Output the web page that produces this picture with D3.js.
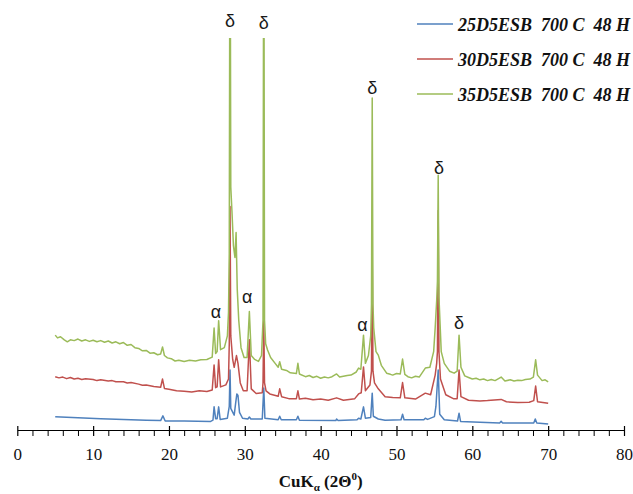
<!DOCTYPE html>
<html>
<head>
<meta charset="utf-8">
<script src="https://cdn.jsdelivr.net/npm/d3@7"></script>
<style>
  body { margin: 0; background: #fff; }
  svg { display: block; }
  .tick text { font-family: 'Liberation Serif', 'Times New Roman', serif; }
</style>
</head>
<body>
<div class="draw-section"></div>
<script>
// XRD patterns, [2theta, intensity (a.u., curves already offset)]
const blue25 = [
  [5, 3.4], [8, 3.1], [11, 2.9], [14, 2.7], [17, 2.5], [18.9, 2.4], [19.2, 3.6], [19.5, 2.3],
  [22, 2.3], [25.5, 2.2], [25.8, 2.5], [25.95, 5.9], [26.15, 2.9], [26.35, 2.9], [26.55, 5.9],
  [26.75, 2.7], [27.7, 3.0], [27.95, 6], [28.05, 15.3], [28.15, 5.5], [28.6, 3.8], [28.8, 7],
  [28.95, 9.2], [29.1, 8.8], [29.3, 4.5], [29.7, 3.0], [30.4, 2.8], [30.6, 3.3], [30.8, 2.8],
  [32.3, 2.8], [32.5, 10.7], [32.65, 3.0], [34.4, 2.6], [34.6, 3.5], [34.8, 2.6], [36.8, 2.6],
  [37.0, 3.5], [37.2, 2.5], [42.0, 2.4], [42.1, 2.8], [42.3, 2.4], [44.8, 2.6], [45.0, 3.0],
  [45.3, 2.8], [45.65, 5.9], [45.9, 3.0], [46.6, 3.2], [46.8, 9.4], [46.95, 3.5], [47.6, 2.8],
  [48.5, 2.5], [50.6, 2.6], [50.8, 4.0], [51.0, 2.6], [53.6, 2.6], [53.8, 3.0], [54.1, 2.7],
  [55.0, 3.4], [55.2, 6], [55.5, 15.3], [55.7, 4], [56.3, 2.6], [58.05, 2.3], [58.25, 4.3],
  [58.45, 2.2], [61, 2.0], [63.6, 1.8], [63.8, 2.2], [64.0, 1.8], [68.1, 1.8], [68.3, 2.8],
  [68.5, 1.8], [70, 1.5]
];

const red30 = [
  [5, 13.6], [5.5, 13.3], [6, 13.5], [6.5, 13.1], [7, 13.4], [7.5, 13.0], [8, 13.2], [8.5, 12.9],
  [9, 13.1], [10, 12.9], [10.5, 12.6], [11, 12.8], [12, 12.5], [12.5, 12.6], [13, 12.3],
  [14, 12.3], [14.5, 12.0], [15, 12.1], [16, 11.7], [16.5, 11.4], [17, 11.5], [18, 11.1],
  [18.9, 10.9], [19.15, 13], [19.4, 10.6], [20, 10.4], [21, 10.0], [22, 9.9], [23, 9.7],
  [24, 10.0], [25, 9.8], [25.7, 10.2], [25.95, 16.6], [26.15, 10.8], [26.35, 11],
  [26.55, 17.9], [26.8, 11], [27.5, 11.5], [27.85, 13], [27.95, 22], [28.05, 57], [28.15, 24],
  [28.4, 18], [28.6, 16], [28.9, 19], [29.1, 17], [29.4, 12], [29.8, 10], [30.3, 10],
  [30.6, 23], [30.85, 10.5], [31.5, 9.3], [32.3, 9.5], [32.4, 12], [32.5, 28], [32.6, 12],
  [32.8, 10], [33.3, 9.2], [34.4, 8.6], [34.6, 10.5], [34.85, 8.5], [35.8, 8.0], [36.8, 8.0],
  [37.0, 10.0], [37.2, 7.9], [38, 8.1], [39, 7.7], [40, 7.9], [41, 7.6], [42.1, 8.2], [43, 7.6],
  [44.5, 8], [45.0, 9.2], [45.35, 9.5], [45.65, 16.1], [45.9, 10], [46.5, 11.5], [46.7, 15],
  [46.8, 45], [46.9, 15], [47.1, 12], [47.6, 10.5], [48.5, 8.5], [49.5, 8.3], [50.5, 8.2],
  [50.8, 12.1], [51.1, 8.2], [52.5, 7.9], [53.8, 9.4], [54.5, 9], [55.1, 14], [55.3, 17],
  [55.4, 20], [55.5, 56], [55.6, 20], [55.8, 13], [56.5, 9], [57.5, 8], [58.0, 8], [58.25, 15.3],
  [58.5, 8.5], [59.5, 7.6], [61, 7.4], [62, 7.5], [63.8, 7.8], [64.5, 7.2], [66, 7.0],
  [67.5, 7.1], [68.1, 7.5], [68.35, 11.2], [68.6, 7.2], [70, 6.8]
];

const green35 = [
  [5.0, 24.2], [5.3, 23.5], [5.7, 23.8], [6.2, 23.0], [6.6, 22.5], [7.0, 23.0], [7.5, 22.8],
  [8.0, 23.2], [8.5, 22.7], [9.0, 23.0], [9.5, 22.6], [10, 22.9], [10.5, 22.5], [11, 22.8],
  [11.5, 22.4], [12, 22.7], [12.5, 22.2], [13, 22.5], [13.5, 22.0], [14, 22.3], [14.5, 21.6],
  [15, 21.8], [15.5, 21.0], [16, 20.8], [16.5, 20.2], [17, 20.3], [17.5, 19.6], [18, 19.7],
  [18.5, 19.2], [18.9, 19.4], [19.15, 21.2], [19.4, 19.0], [19.8, 18.4], [20.3, 18.2],
  [20.8, 17.6], [21.3, 17.8], [22, 17.5], [22.7, 17.8], [23.5, 17.6], [24.2, 17.9], [25, 18.0],
  [25.7, 18.6], [25.95, 26.0], [26.15, 19.5], [26.35, 20], [26.55, 27.9], [26.8, 20.5],
  [27.3, 21], [27.7, 24], [27.85, 30], [27.95, 45], [28.05, 150], [28.15, 62], [28.3, 56],
  [28.5, 47], [28.7, 44], [28.85, 50.4], [29.0, 36], [29.2, 28], [29.5, 21], [29.9, 18.5],
  [30.3, 18.5], [30.6, 30.2], [30.85, 19], [31.3, 18], [31.8, 17.5], [32.2, 19], [32.4, 28],
  [32.5, 150], [32.6, 28], [32.75, 22], [33.0, 20.4], [33.4, 18.5], [34.0, 17], [34.4, 16],
  [34.6, 17.4], [34.85, 15.5], [35.5, 15.2], [36, 14.6], [36.8, 14.4], [37.0, 17.0], [37.2, 14.3],
  [38, 13.6], [38.5, 13.9], [39, 13.4], [39.5, 13.7], [40, 13.2], [40.5, 13.5], [41, 13.3],
  [41.5, 13.6], [42.1, 14.3], [42.5, 13.5], [43, 13.7], [43.5, 13.9], [44, 14], [44.7, 14.8],
  [45.0, 15.8], [45.3, 15.5], [45.65, 24.2], [45.9, 17], [46.3, 19], [46.6, 24], [46.7, 32],
  [46.8, 84.7], [46.9, 32], [47.0, 26], [47.3, 20], [47.6, 19.1], [48.0, 16.5], [48.7, 14.5],
  [49.2, 14.2], [49.5, 14], [50, 14.4], [50.5, 14.3], [50.8, 18.1], [51.1, 14.2], [51.5, 13.6],
  [52, 13.3], [52.5, 13.7], [53, 13.5], [53.8, 15.8], [54.4, 16], [54.9, 20], [55.1, 26],
  [55.3, 33], [55.4, 38], [55.5, 65], [55.6, 34], [55.75, 27], [55.9, 20], [56.3, 17], [57, 15],
  [57.6, 14.5], [58.0, 15], [58.25, 24.2], [58.5, 16], [59, 13.8], [59.5, 13.4], [60, 13],
  [60.5, 13.2], [61, 12.8], [61.5, 13.0], [62, 12.6], [62.5, 12.9], [63, 12.6], [63.8, 13.5],
  [64.3, 12.5], [65, 12.8], [65.5, 12.5], [66, 12.7], [66.5, 12.6], [67, 12.9], [67.6, 13.0],
  [68.05, 13.5], [68.35, 17.9], [68.6, 14], [69.2, 12.6], [69.6, 12.8], [70, 12.3]
];

const seriesNames = ['25D5ESB  700 C  48 H', '30D5ESB  700 C  48 H', '35D5ESB  700 C  48 H'];
const seriesColors = ['#4f81bd', '#c0504d', '#9bbb59'];

// phase markers: [2theta, intensity of label centre, symbol]
const phaseLabels = [
  [28.05, 104.3, 'δ'], [32.5, 103.8, 'δ'], [46.8, 87.2, 'δ'], [55.6, 66.8, 'δ'],
  [58.25, 27.3, 'δ'], [26.2, 30.1, 'α'], [30.3, 33.9, 'α'], [45.5, 26.8, 'α']
];

const xMajorTicks = [0, 10, 20, 30, 40, 50, 60, 70, 80];

const W = 633;
const H = 494;

let x = d3.scaleLinear().domain([0, 80]).range([17.3, 624]);
let y = d3.scaleLinear().domain([0, 100]).range([430, 38]);

let svg = d3
  .select('.draw-section')
  .append('svg')
  .attr('width', W)
  .attr('height', H);

svg
  .append('defs')
  .append('clipPath')
  .attr('id', 'plot-clip')
  .append('rect')
  .attr('x', 0)
  .attr('y', y(100))
  .attr('width', W)
  .attr('height', y(0) - y(100) + 20);

// traces
const line = d3
  .line()
  .x(d => x(d[0]))
  .y(d => y(d[1]));

let traces = svg.append('g').attr('clip-path', 'url(#plot-clip)');
[blue25, red30, green35].forEach((data, i) => {
  traces
    .append('path')
    .attr('d', line(data))
    .attr('fill', 'none')
    .attr('stroke', seriesColors[i])
    .attr('stroke-width', 1.5)
    .attr('stroke-linejoin', 'round');
});

// x axis: minor ticks every 2, major every 10
let minor = d3.range(0, 81, 2).filter(v => v % 10 !== 0);
svg
  .append('g')
  .attr('transform', `translate(0,${y(0)})`)
  .call(d3.axisBottom(x).tickValues(minor).tickSize(6).tickFormat(''))
  .call(g => g.select('.domain').remove())
  .selectAll('line')
  .attr('stroke', '#000');

let xAxis = svg
  .append('g')
  .attr('transform', `translate(0,${y(0)})`)
  .call(
    d3
      .axisBottom(x)
      .tickValues(xMajorTicks)
      .tickSizeInner(6)
      .tickSizeOuter(0)
      .tickPadding(12)
  );

xAxis.select('.domain').attr('stroke', '#000').attr('stroke-width', 1.2);
xAxis
  .selectAll('.tick line')
  .attr('y1', -4)
  .attr('stroke', '#000')
  .attr('stroke-width', 1.2);
xAxis
  .selectAll('.tick text')
  .attr('font-size', 17)
  .attr('fill', '#111');

// axis title
let title = svg
  .append('text')
  .attr('x', (x(0) + x(80)) / 2)
  .attr('y', 487)
  .attr('text-anchor', 'middle')
  .attr('font-family', "'Liberation Serif', 'Times New Roman', serif")
  .attr('font-weight', 'bold')
  .attr('font-size', 17)
  .attr('fill', '#111');
title.append('tspan').text('CuK');
title.append('tspan').attr('font-size', 11).attr('dy', 4).text('α');
title.append('tspan').attr('dy', -4).text(' (2Θ');
title.append('tspan').attr('font-size', 11).attr('dy', -7).text('0');
title.append('tspan').attr('dy', 7).text(')');

// phase labels
svg
  .append('g')
  .selectAll('text')
  .data(phaseLabels)
  .enter()
  .append('text')
  .attr('x', d => x(d[0]))
  .attr('y', d => y(d[1]))
  .attr('dy', '0.35em')
  .attr('text-anchor', 'middle')
  .attr('font-family', "'Liberation Sans', Arial, sans-serif")
  .attr('font-size', 18)
  .attr('fill', '#1a1a1a')
  .text(d => d[2]);

// legend
let legend = svg
  .append('g')
  .selectAll('g')
  .data(seriesNames)
  .enter()
  .append('g')
  .attr('transform', (d, i) => `translate(417,${24 + i * 35})`);

legend
  .append('line')
  .attr('x1', 0)
  .attr('x2', 36)
  .attr('stroke', (d, i) => seriesColors[i])
  .attr('stroke-width', 1.5);

legend
  .append('text')
  .attr('x', 41)
  .attr('y', 6.5)
  .attr('font-family', "'Liberation Serif', 'Times New Roman', serif")
  .attr('font-weight', 'bold')
  .attr('font-style', 'italic')
  .attr('font-size', 18)
  .attr('fill', '#111')
  .style('white-space', 'pre')
  .text(d => d);
</script>
</body>
</html>
